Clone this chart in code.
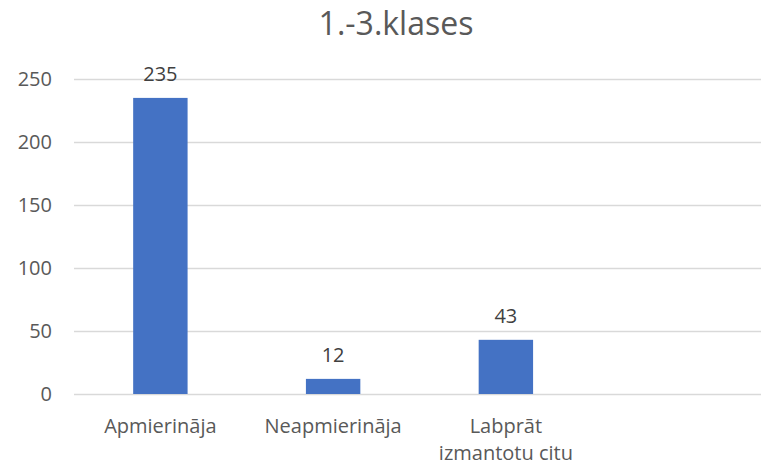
<!DOCTYPE html>
<html>
<head>
<meta charset="utf-8">
<script src="https://cdn.jsdelivr.net/npm/d3@7"></script>
<style>
  body { margin: 0; background: #fff; }
  svg { display: block; font-family: "Open Sans", sans-serif; }
</style>
</head>
<body>
<div id="chart"></div>
<script>
const chartTitle = "1.-3.klases";
const categories = ["Apmierināja", "Neapmierināja", "Labprāt izmantotu citu", ""];
const categoryLines = [["Apmierināja"], ["Neapmierināja"], ["Labprāt", "izmantotu citu"], []];
const values = [235, 12, 43, null];
const yTicks = [0, 50, 100, 150, 200, 250];

const width = 761;
const height = 466;
const margin = { top: 79, right: -4, bottom: 72, left: 74 };

const svg = d3
  .select("#chart")
  .append("svg")
  .attr("width", width)
  .attr("height", height);

const x = d3
  .scaleBand()
  .domain(categories)
  .range([margin.left, width - margin.right])
  .paddingInner(0.685)
  .paddingOuter(0.3425);

const y = d3
  .scaleLinear()
  .domain([0, 250])
  .range([height - margin.bottom, margin.top]);

// gridlines
svg
  .append("g")
  .selectAll("line")
  .data(yTicks)
  .join("line")
  .attr("x1", margin.left)
  .attr("x2", width - margin.right)
  .attr("y1", (d) => Math.round(y(d)) + 0.5)
  .attr("y2", (d) => Math.round(y(d)) + 0.5)
  .attr("stroke", "#d9d9d9")
  .attr("stroke-width", 1.3);

// y axis labels
svg
  .append("g")
  .selectAll("text")
  .data(yTicks)
  .join("text")
  .attr("x", 52)
  .attr("y", (d) => y(d))
  .attr("dy", "0.36em")
  .attr("text-anchor", "end")
  .attr("font-size", 20)
  .attr("fill", "#595959")
  .text((d) => d);

const barData = categories
  .map((c, i) => ({ category: c, value: values[i] }))
  .filter((d) => d.value !== null);

svg
  .append("g")
  .selectAll("rect")
  .data(barData)
  .join("rect")
  .attr("x", (d) => x(d.category))
  .attr("width", x.bandwidth())
  .attr("y", (d) => y(d.value))
  .attr("height", (d) => y(0) - y(d.value))
  .attr("fill", "#4472c4");

// value labels
svg
  .append("g")
  .selectAll("text")
  .data(barData)
  .join("text")
  .attr("x", (d) => x(d.category) + x.bandwidth() / 2)
  .attr("y", (d) => y(d.value) - 17)
  .attr("text-anchor", "middle")
  .attr("font-size", 20)
  .attr("fill", "#404040")
  .text((d) => d.value);

// category labels
const catGroup = svg
  .append("g")
  .selectAll("text")
  .data(categories)
  .join("text")
  .attr("x", (d) => x(d) + x.bandwidth() / 2)
  .attr("y", 433)
  .attr("text-anchor", "middle")
  .attr("font-size", 20)
  .attr("fill", "#595959");

catGroup
  .selectAll("tspan")
  .data((d, i) => categoryLines[i].map((line) => ({ line, cx: x(d) + x.bandwidth() / 2 })))
  .join("tspan")
  .attr("x", (d) => d.cx)
  .attr("dy", (d, i) => (i === 0 ? 0 : 27))
  .text((d) => d.line);

// title
svg
  .append("text")
  .attr("x", 396)
  .attr("y", 35)
  .attr("text-anchor", "middle")
  .attr("font-size", 32)
  .attr("fill", "#595959")
  .text(chartTitle);
</script>
</body>
</html>
